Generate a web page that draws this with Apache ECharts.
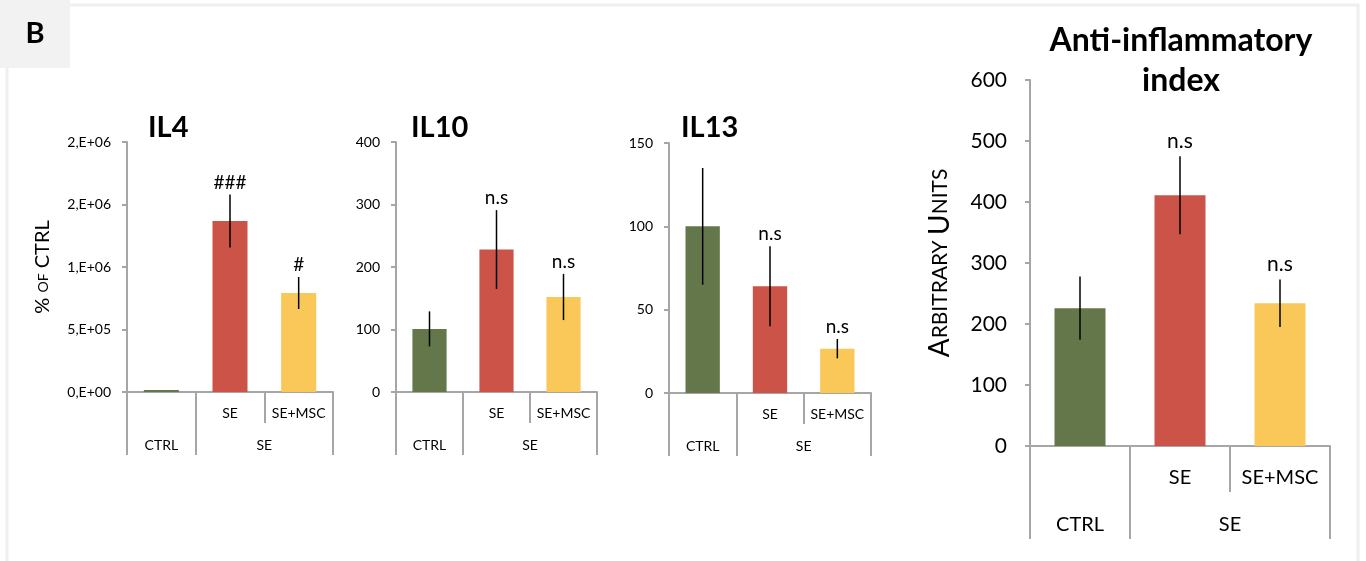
<!DOCTYPE html>
<html>
<head>
<meta charset="utf-8">
<script src="https://cdn.jsdelivr.net/npm/echarts@6/dist/echarts.min.js"></script>
<style>
html,body{margin:0;padding:0;background:#fff;}
#c{width:1366px;height:561px;}
</style>
</head>
<body>
<div id="c"></div>
<script>
// ---- data ----
const categories = ['CTRL', 'SE', 'SE+MSC'];
const level1Labels = ['', 'SE', 'SE+MSC'];
const groupLabels = ['CTRL', 'SE'];
const groupCenters = [0.5, 2];
const groupBounds = [0, 1, 3];
const barColors = ['#63774A', '#CB5348', '#F9C859'];

const il4Values = [100, 1368000, 792000];
const il4Errors = [0, 212000, 128000];
const il4Marks = ['', '###', '#'];
const il4YTicks = ['0,E+00', '5,E+05', '1,E+06', '2,E+06', '2,E+06'];

const il10Values = [101, 228, 152];
const il10Errors = [28, 63, 37];
const il10Marks = ['', 'n.s', 'n.s'];
const il10YTicks = ['0', '100', '200', '300', '400'];

const il13Values = [100, 64, 26.6];
const il13Errors = [35, 24, 5.8];
const il13Marks = ['', 'n.s', 'n.s'];
const il13YTicks = ['0', '50', '100', '150'];

const antiValues = [226, 411, 234];
const antiErrors = [52, 64, 39];
const antiMarks = ['', 'n.s', 'n.s'];
const antiYTicks = ['0', '100', '200', '300', '400', '500', '600'];

const FONT = 'Lato, "Open Sans", sans-serif';
const AXIS = '#a6a6a6';

const panels = [
  {values: il4Values, errors: il4Errors, marks: il4Marks, ticks: il4YTicks, max: 2000000, interval: 500000,
   grid: {left: 127, top: 142, width: 206, height: 250}, small: true,
   name: '{a|% }{b|OF}{a| CTRL}', nameGap: 74},
  {values: il10Values, errors: il10Errors, marks: il10Marks, ticks: il10YTicks, max: 400, interval: 100,
   grid: {left: 396, top: 142, width: 201, height: 250}, small: true},
  {values: il13Values, errors: il13Errors, marks: il13Marks, ticks: il13YTicks, max: 150, interval: 50,
   grid: {left: 669, top: 143, width: 202, height: 250}, small: true},
  {values: antiValues, errors: antiErrors, marks: antiMarks, ticks: antiYTicks, max: 600, interval: 100,
   grid: {left: 1030, top: 80, width: 300, height: 366}, small: false,
   name: '{a|A}{b|RBITRARY }{a|U}{b|NITS}', nameGap: 76}
];

const grids = [], xAxes = [], yAxes = [], series = [];
panels.forEach((p, i) => {
  const s = p.small;
  grids.push(Object.assign({containLabel: false}, p.grid));
  const catFont = s ? 14 : 20;
  const l1 = s ? 31 : 46;
  const l2 = s ? 32 : 47;
  xAxes.push({
    type: 'category', gridIndex: i, data: categories,
    axisLine: {show: true, lineStyle: {color: AXIS, width: 2}},
    axisTick: {show: true, length: l1, lineStyle: {color: AXIS, width: 2}},
    axisLabel: {interval: 0, hideOverlap: false, margin: s ? 14 : 22, fontSize: catFont, fontFamily: FONT, color: '#000',
      formatter: (v, idx) => level1Labels[idx]},
    splitLine: {show: false}
  });
  xAxes.push({
    type: 'value', gridIndex: i, min: 0, max: 3, position: 'bottom', offset: l1,
    axisLine: {show: false},
    axisTick: {show: true, length: l2, customValues: groupBounds, lineStyle: {color: AXIS, width: 2}},
    axisLabel: {show: true, customValues: groupCenters, margin: s ? 15 : 23, fontSize: catFont, fontFamily: FONT, color: '#000',
      formatter: v => groupLabels[groupCenters.indexOf(v)]},
    splitLine: {show: false}
  });
  const y = {
    type: 'value', gridIndex: i, min: 0, max: p.max, interval: p.interval,
    axisLine: {show: true, lineStyle: {color: AXIS, width: 2}},
    axisTick: {show: true, length: 5, lineStyle: {color: AXIS, width: 2}},
    axisLabel: {margin: s ? 16 : 23, fontSize: s ? 14 : 21, fontFamily: FONT, color: '#000',
      formatter: (v) => p.ticks[Math.round(v / p.interval)]},
    splitLine: {show: false}
  };
  if (p.name) {
    Object.assign(y, {
      name: p.name, nameLocation: 'middle', nameGap: p.nameGap,
      nameTextStyle: {fontFamily: FONT, color: '#000',
        rich: s ? {a: {fontSize: 20, fontFamily: FONT}, b: {fontSize: 14, fontFamily: FONT}}
                : {a: {fontSize: 28, fontFamily: FONT}, b: {fontSize: 21, fontFamily: FONT}}}
    });
  }
  yAxes.push(y);
  series.push({
    type: 'bar', xAxisIndex: 2 * i, yAxisIndex: i, barWidth: '51%', barMinHeight: 2,
    data: p.values.map((v, k) => ({value: v, itemStyle: {color: barColors[k]}})),
    silent: true, animation: false
  });
  const gap = s ? 12 : 15;
  const markFont = s ? 19 : 21;
  series.push({
    type: 'custom', xAxisIndex: 2 * i, yAxisIndex: i, animation: false, silent: true, z: 5,
    data: p.values.map((v, k) => [k, v, p.errors[k]]),
    encode: {x: 0, y: 1},
    renderItem: (params, api) => {
      const k = api.value(0), v = api.value(1), e = api.value(2);
      const top = api.coord([k, v + e]);
      const bot = api.coord([k, v - e]);
      const children = [];
      if (e > 0) {
        children.push({type: 'line', shape: {x1: top[0], y1: top[1], x2: bot[0], y2: bot[1]},
          style: {stroke: '#000', lineWidth: 1.5}});
      }
      const mark = p.marks[params.dataIndex];
      if (mark) {
        children.push({type: 'text', style: {text: mark, x: top[0], y: top[1] - gap,
          align: 'center', verticalAlign: 'middle', fontSize: markFont, fontFamily: FONT, fill: '#000'}});
      }
      return {type: 'group', children};
    }
  });
});

const titles = [
  {text: 'IL4', x: 148, y: 128},
  {text: 'IL10', x: 411, y: 128},
  {text: 'IL13', x: 681, y: 128}
];

const graphic = [
  {type: 'rect', shape: {x: 7, y: 5, width: 1351, height: 620}, style: {fill: 'none', stroke: '#efefef', lineWidth: 3}, z: 0},
  {type: 'rect', shape: {x: 0, y: 0, width: 70, height: 68}, style: {fill: '#f2f2f2'}, z: 1},
  {type: 'text', x: 35, y: 34, style: {text: 'B', align: 'center', verticalAlign: 'middle', fontSize: 29, fontWeight: 'bold', fontFamily: FONT, fill: '#000'}, z: 2},
  ...titles.map(t => ({type: 'text', x: t.x, y: t.y, style: {text: t.text, align: 'left', verticalAlign: 'middle',
    fontSize: 29, fontWeight: 'bold', fontFamily: FONT, fill: '#000'}})),
  {type: 'text', x: 1181, y: 21, style: {text: 'Anti-inflammatory\nindex', align: 'center', verticalAlign: 'top',
    lineHeight: 40, fontSize: 32, fontWeight: 'bold', fontFamily: FONT, fill: '#000'}}
];

const chart = echarts.init(document.getElementById('c'), null, {renderer: 'canvas'});
chart.setOption({
  animation: false,
  backgroundColor: '#fff',
  grid: grids, xAxis: xAxes, yAxis: yAxes, series: series,
  graphic: graphic
});
</script>
</body>
</html>
